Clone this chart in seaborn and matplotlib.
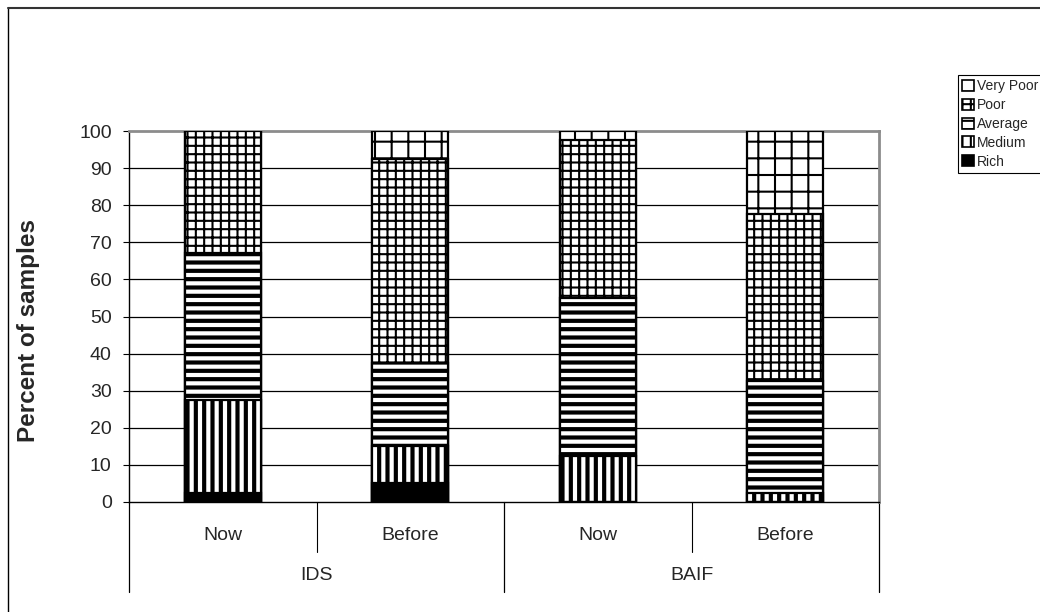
import pandas as pd
import numpy as np
import matplotlib
matplotlib.use("Agg")
import matplotlib.pyplot as plt
import matplotlib.transforms as mtransforms
from matplotlib.patches import Patch
import seaborn as sns

# data (percent of samples, per bar)
groups = ["IDS", "IDS", "BAIF", "BAIF"]
periods = ["Now", "Before", "Now", "Before"]
classes = ["Rich", "Medium", "Average", "Poor", "Very Poor"]
rich = [2.5, 5.0, 0.0, 0.0]
medium = [25.0, 10.0, 12.5, 2.5]
average = [39.5, 22.5, 42.5, 30.0]
poor = [33.0, 55.0, 42.5, 45.0]
very_poor = [0.0, 7.5, 2.5, 22.5]

df = pd.DataFrame({
    "group": groups,
    "period": periods,
    "Rich": rich,
    "Medium": medium,
    "Average": average,
    "Poor": poor,
    "Very Poor": very_poor,
})
df["bar"] = df["group"] + " " + df["period"]
order = list(df["bar"])

# cumulative tops, drawn from the top layer down so each covers the one above
cum = df[classes].cumsum(axis=1)
for c in classes:
    df[f"{c}_top"] = cum[c]

styles = {
    "Very Poor": dict(color="white", hatch="+", hlw=1.5),
    "Poor": dict(color="white", hatch="++", hlw=1.5),
    "Average": dict(color="white", hatch="--", hlw=3.0),
    "Medium": dict(color="white", hatch="||", hlw=3.0),
    "Rich": dict(color="black", hatch=None, hlw=1.0),
}

sns.set_style("white")
plt.rcParams["font.family"] = ["Liberation Sans", "DejaVu Sans"]
plt.rcParams["hatch.color"] = "black"

fig = plt.figure(figsize=(10.4, 6.12), dpi=100)
ax = fig.add_axes([129 / 1040, 1 - 502 / 612, 750 / 1040, 371 / 612])

for c in classes[::-1]:
    st = styles[c]
    plt.rcParams["hatch.linewidth"] = st["hlw"]
    n_before = len(ax.patches)
    sns.barplot(data=df, x="bar", y=f"{c}_top", order=order, color=st["color"],
                saturation=1, edgecolor="black", linewidth=1.6, hatch=st["hatch"],
                width=0.405, errorbar=None, ax=ax, zorder=3)
    for p in ax.patches[n_before:]:
        if hasattr(p, "set_hatch_linewidth"):
            p.set_hatch_linewidth(st["hlw"])

ax.set_xlim(-0.5, 3.5)
ax.set_ylim(0, 100)
ax.set_yticks(np.arange(0, 101, 10))
ax.set_xticks(range(len(order)))
ax.set_xticklabels(periods)
ax.set_xlabel("")
ax.set_ylabel("Percent of samples", fontsize=17.5, fontweight="bold")
ax.yaxis.set_label_coords(-0.119, 0.462)
ax.tick_params(axis="y", length=4.5, width=0.8, color="black", labelsize=14, pad=8, direction="out")
ax.tick_params(axis="x", length=0, labelsize=14, pad=18)
ax.yaxis.set_ticks_position("left")

for y in range(10, 100, 10):
    ax.axhline(y, color="black", lw=0.9, zorder=1)

for side in ["left", "bottom"]:
    ax.spines[side].set_color("black")
    ax.spines[side].set_linewidth(1.0)
for side in ["top", "right"]:
    ax.spines[side].set_color("#8c8c8c")
    ax.spines[side].set_linewidth(2.0)
ax.spines["bottom"].set_zorder(5)

# two-level category axis: separators and group labels
trans = mtransforms.blended_transform_factory(ax.transData, ax.transAxes)
for xs in [0.5, 2.5]:
    ax.plot([xs, xs], [0, -0.135], transform=trans, color="black", lw=0.8, clip_on=False)
for xs in [-0.5, 1.5, 3.5]:
    ax.plot([xs, xs], [0, -0.243], transform=trans, color="black", lw=0.9, clip_on=False)
for gx, g in [(0.5, "IDS"), (2.5, "BAIF")]:
    ax.text(gx, -0.198, g, transform=trans, ha="center", va="center", fontsize=14)

# legend
plt.rcParams["hatch.linewidth"] = 1.5
handles = [
    Patch(facecolor=styles[c]["color"], edgecolor="black", hatch=styles[c]["hatch"], linewidth=1.2)
    for c in classes[::-1]
]
leg = fig.legend(handles, classes[::-1], loc="upper left",
                 bbox_to_anchor=(958 / 1040, 1 - 75 / 612), fontsize=10,
                 frameon=True, fancybox=False, edgecolor="black", framealpha=1,
                 handlelength=0.85, handleheight=0.85, handletextpad=0.2,
                 labelspacing=0.35, borderpad=0.3, borderaxespad=0)
leg.get_frame().set_linewidth(0.8)

# chart frame (only top and left edges visible in the crop)
fig.add_artist(plt.Line2D([8 / 1040, 8 / 1040], [0, 1 - 8 / 612], color="black", lw=1.0))
fig.add_artist(plt.Line2D([8 / 1040, 1], [1 - 8 / 612, 1 - 8 / 612], color="#333333", lw=1.5))

fig.savefig("out.png", dpi=100)
